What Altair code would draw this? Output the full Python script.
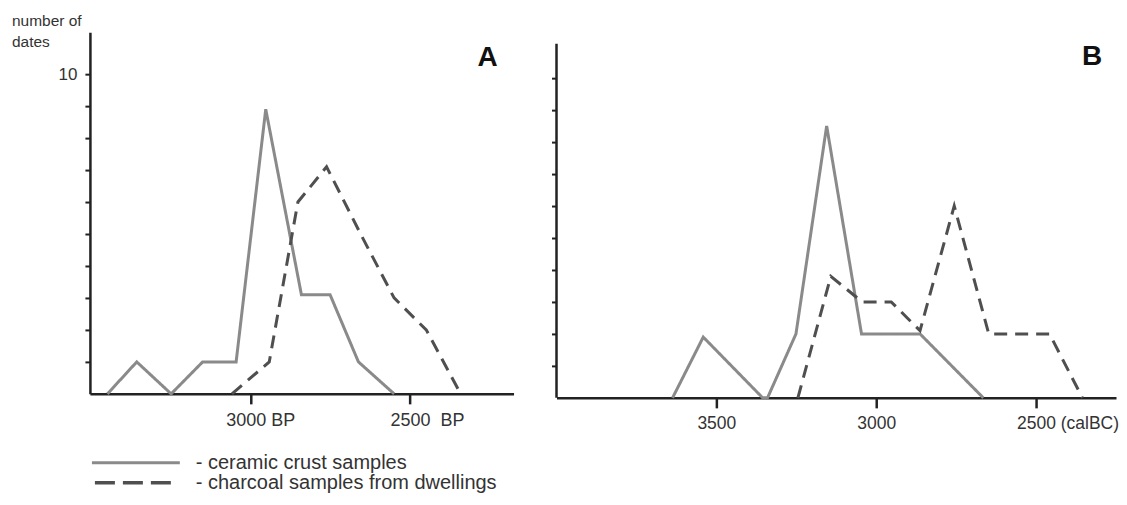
import altair as alt
import pandas as pd

FONT = "Liberation Sans"

series_names = ["ceramic crust samples", "charcoal samples from dwellings"]
legend_labels = ["- ceramic crust samples", "- charcoal samples from dwellings"]
series_colors = ["#8a8a8a", "#4f4f4f"]

# Panel A (BP)
a_ceramic_bp = [3450, 3358, 3250, 3151, 3046, 2953, 2841, 2751, 2662, 2550]
a_ceramic_n = [0, 1, 0, 1, 1, 8.9, 3.1, 3.1, 1, 0]
a_charcoal_bp = [3059, 2942, 2852, 2762, 2650, 2550, 2449, 2341]
a_charcoal_n = [0, 1, 6, 7.1, 4.9, 3, 2, 0]

# Panel B (cal BC)
b_ceramic_bc = [3637, 3541, 3355, 3340, 3251, 3155, 3046, 2863, 2665]
b_ceramic_n = [0, 1.9, 0, 0, 2, 8.5, 2, 2, 0]
b_charcoal_bc = [3245, 3142, 3044, 2953, 2863, 2756, 2648, 2458, 2355]
b_charcoal_n = [0, 3.8, 3, 3, 2.1, 6, 2, 2, 0]

a_ticks = [3000, 2500]
a_tick_labels = ["3000 BP", "2500\u00a0\u00a0BP"]
b_ticks = [3500, 3000, 2500]
b_tick_labels = ["3500", "3000", "2500 (calBC)"]
y_ticks = [1, 2, 3, 4, 5, 6, 7, 8, 9, 10]
y_labelled = 10
y_title_lines = ["number of", "dates"]
panel_letters = ["A", "B"]
b_axis_top = 11.07


def label_expr(values, labels):
    expr = "''"
    for v, l in zip(values, labels):
        expr = f"datum.value == {v} ? '{l}' : ({expr})"
    return expr


def make_df(xs_list, ys_list):
    rows = []
    for name, xs, ys in zip(series_names, xs_list, ys_list):
        for x, y in zip(xs, ys):
            rows.append({"year": x, "n": y, "series": name})
    return pd.DataFrame(rows)


df_a = make_df([a_ceramic_bp, a_charcoal_bp], [a_ceramic_n, a_charcoal_n])
df_b = make_df([b_ceramic_bc, b_charcoal_bc], [b_ceramic_n, b_charcoal_n])

color_enc = alt.Color("series:N", scale=alt.Scale(domain=series_names, range=series_colors), legend=None)
dash_enc = alt.StrokeDash("series:N", scale=alt.Scale(domain=series_names, range=[[1, 0], [13, 8]]), legend=None)

axis_common = dict(
    title=None, grid=False, domainColor="#222", domainWidth=2.5, tickColor="#222",
    labelFont=FONT, labelColor="#333", labelOverlap=False, labelFlush=False,
)

# ---------- Panel A ----------
A_W, A_H = 424, 362
xa = alt.X("year:Q", scale=alt.Scale(domain=[3505, 2175], nice=False, zero=False),
           axis=alt.Axis(values=a_ticks, labelExpr=label_expr(a_ticks, a_tick_labels),
                         tickSize=10, tickWidth=2.5, labelFontSize=18, labelAlign="left",
                         labelOffset={"condition": {"test": "datum.value == 3000", "value": -25}, "value": -20},
                         labelPadding=8, **axis_common))
ya = alt.Y("n:Q", scale=alt.Scale(domain=[0, 11.31], nice=False),
           axis=alt.Axis(values=y_ticks, labelExpr=f"datum.value == {y_labelled} ? '{y_labelled}' : ''",
                         tickSize=5, tickWidth=2, labelFontSize=17, labelPadding=8, **axis_common))

lines_a = alt.Chart(df_a).mark_line(strokeWidth=3, strokeJoin="miter", strokeCap="butt").encode(
    x=xa, y=ya, color=color_enc, strokeDash=dash_enc, detail="series:N")

title_a1 = alt.Chart(pd.DataFrame({"t": [y_title_lines[0]]})).mark_text(
    align="left", baseline="alphabetic", fontSize=15.5, font=FONT, color="#333").encode(
    x=alt.value(-78), y=alt.value(-6), text="t:N")
title_a2 = alt.Chart(pd.DataFrame({"t": [y_title_lines[1]]})).mark_text(
    align="left", baseline="alphabetic", fontSize=15.5, font=FONT, color="#333").encode(
    x=alt.value(-78), y=alt.value(15), text="t:N")

letter_a = alt.Chart(pd.DataFrame({"t": [panel_letters[0]]})).mark_text(
    align="center", baseline="middle", fontSize=28, fontWeight="bold", font=FONT, color="#111").encode(
    x=alt.value(398), y=alt.value(26), text="t:N")

leg_rule1 = alt.Chart(pd.DataFrame({"s": [series_names[0]]})).mark_rule(
    strokeWidth=3, color=series_colors[0]).encode(x=alt.value(2), x2=alt.value(90), y=alt.value(431))
leg_rule2 = alt.Chart(pd.DataFrame({"s": [series_names[1]]})).mark_rule(
    strokeWidth=3.5, color=series_colors[1], strokeDash=[20, 8]).encode(x=alt.value(5), x2=alt.value(81), y=alt.value(451))
leg_text1 = alt.Chart(pd.DataFrame({"t": [legend_labels[0]]})).mark_text(
    align="left", baseline="middle", fontSize=20, font=FONT, color="#333").encode(
    x=alt.value(106), y=alt.value(431), text="t:N")
leg_text2 = alt.Chart(pd.DataFrame({"t": [legend_labels[1]]})).mark_text(
    align="left", baseline="middle", fontSize=20, font=FONT, color="#333").encode(
    x=alt.value(106), y=alt.value(451), text="t:N")

panel_a = alt.layer(lines_a, title_a1, title_a2, letter_a, leg_rule1, leg_rule2, leg_text1, leg_text2).properties(
    width=A_W, height=A_H)

# ---------- Panel B ----------
B_W, B_H = 560, 366
yb_scale = alt.Scale(domain=[0, 11.43], nice=False)
yb_axis = alt.Axis(values=y_ticks, labels=False, domain=False, tickSize=5, tickWidth=2, **axis_common)
xb = alt.X("year:Q", scale=alt.Scale(domain=[4000, 2250], nice=False, zero=False),
           axis=alt.Axis(values=b_ticks, labelExpr=label_expr(b_ticks, b_tick_labels),
                         tickSize=10, tickWidth=2.5, labelFontSize=17.5, labelAlign="left",
                         labelOffset=-19.5, labelPadding=7, **axis_common))
yb = alt.Y("n:Q", scale=yb_scale, axis=yb_axis)

lines_b = alt.Chart(df_b).mark_line(strokeWidth=3, strokeJoin="miter", strokeCap="butt").encode(
    x=xb, y=yb, color=color_enc, strokeDash=dash_enc, detail="series:N")

yaxis_b = alt.Chart(pd.DataFrame({"n": [0], "n2": [b_axis_top]})).mark_rule(
    color="#222", strokeWidth=2.5).encode(x=alt.value(0), y=yb, y2="n2:Q")

letter_b = alt.Chart(pd.DataFrame({"t": [panel_letters[1]]})).mark_text(
    align="center", baseline="middle", fontSize=28, fontWeight="bold", font=FONT, color="#111").encode(
    x=alt.value(536), y=alt.value(25), text="t:N")

panel_b = alt.layer(yaxis_b, lines_b, letter_b).properties(width=B_W, height=B_H)

chart = alt.hconcat(panel_a, panel_b, spacing=43, bounds="flush").configure_view(
    stroke=None).properties(padding={"left": 4, "top": 6, "right": 0, "bottom": 0})

chart.save("out.html", embed_options={"renderer": "svg", "actions": False})
